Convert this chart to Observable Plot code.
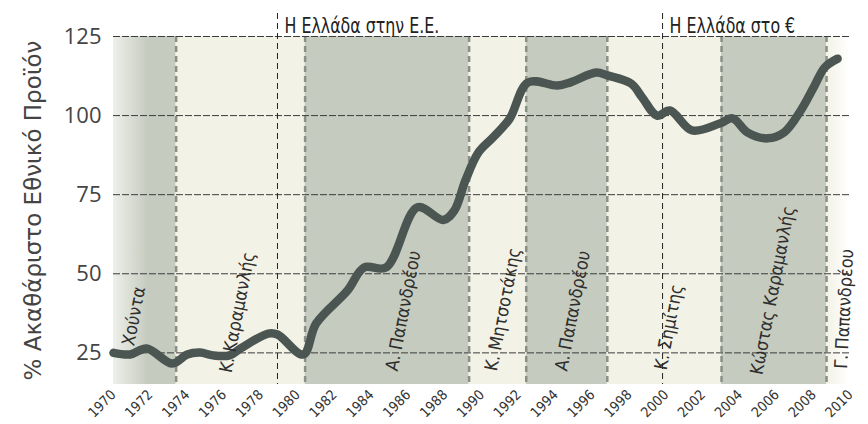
<!DOCTYPE html>
<html>
<head>
<meta charset="utf-8">
<script src="https://cdn.jsdelivr.net/npm/d3@7"></script>
<script src="https://cdn.jsdelivr.net/npm/@observablehq/plot@0.6"></script>
<style>
  html, body { margin: 0; padding: 0; background: #ffffff; }
  #chart { width: 868px; height: 424px; }
</style>
</head>
<body>
<div id="chart"></div>
<script>
// Debt as % of GDP (year, value)
const years = [1970, 1970.9, 1971.8, 1973.2, 1974.0, 1974.7, 1975.4, 1976.3, 1976.9, 1978.4, 1978.9, 1980.3,
  1981.0, 1982.7, 1983.6, 1984.8, 1986.5, 1987.9, 1988.5, 1989.1, 1989.8, 1990.6, 1991.5, 1992.5,
  1994.1, 1994.8, 1996.2, 1996.8, 1998.1, 1998.7, 1999.5, 2000.2, 2001.4, 2002.9, 2003.6, 2004.4,
  2005.5, 2006.4, 2007.3, 2008.0, 2008.6, 2009.3];
const debt = [25.0, 24.5, 26.4, 21.6, 24.5, 25.1, 24.2, 24.2, 26.4, 31.1, 30.8, 24.5,
  34.3, 44.7, 52.0, 52.0, 71.0, 67.0, 70.0, 79.5, 88.3, 93.1, 99.0, 110.5,
  109.5, 110.5, 113.6, 112.7, 110.1, 105.7, 100.0, 101.6, 95.3, 97.5, 99.1, 94.7,
  92.8, 94.7, 101.6, 108.9, 115.2, 118.0];

// Governments (background bands)
const bandStart = [1970, 1973.4, 1980.4, 1989.3, 1992.4, 1996.8, 2003.0, 2008.7];
const bandEnd   = [1973.4, 1980.4, 1989.3, 1992.4, 1996.8, 2003.0, 2008.7, 2010];
const bandKind  = ["dark", "light", "dark", "light", "dark", "light", "dark", "light"];
const leaders   = ["Χούντα", "Κ. Καραμανλής", "Α. Παπανδρέου", "Κ. Μητσοτάκης", "Α. Παπανδρέου",
                   "Κ. Σημίτης", "Κώστας Καραμανλής", "Γ. Παπανδρέου"];
const leaderX   = [1970.8, 1976.1, 1985.1, 1990.5, 1994.3, 1999.7, 2004.9, 2009.5];
const leaderY   = [27.3, 18.8, 19.4, 19.4, 19.4, 19.7, 18.2, 20.0];
const boundaries = [1973.4, 1980.4, 1989.3, 1992.4, 1996.8, 2003.0, 2008.7];

// Events
const eventYears  = [1978.9, 1999.8];
const eventLabels = ["Η Ελλάδα στην Ε.Ε.", "Η Ελλάδα στο €"];

// Axes
const yTicks = [25, 50, 75, 100, 125];
const xTicks = [1970, 1972, 1974, 1976, 1978, 1980, 1982, 1984, 1986, 1988, 1990,
                1992, 1994, 1996, 1998, 2000, 2002, 2004, 2006, 2008, 2010];
const yLabel = "% Ακαθάριστο Εθνικό Προϊόν";

const series = years.map((y, i) => ({year: y, value: debt[i]}));
const bands = bandStart.map((s, i) => ({start: s, end: bandEnd[i], kind: bandKind[i], i}));
const labels = leaders.map((t, i) => ({text: t, x: leaderX[i], y: leaderY[i], i}));
const events = eventYears.map((y, i) => ({year: y, text: eventLabels[i]}));

const DARK = "#c6cbbf", LIGHT = "#f3f2e6";
const narrow = "'Liberation Sans Narrow', 'DejaVu Sans Condensed', 'Roboto Condensed', sans-serif";

const bandFill = d => d.i === 0 ? "url(#fadeLeft)" : d.i === bands.length - 1 ? "url(#fadeRight)" : (d.kind === "dark" ? DARK : LIGHT);

const svg = Plot.plot({
  width: 868,
  height: 424,
  marginLeft: 113,
  marginRight: 18,
  marginTop: 36,
  marginBottom: 40,
  style: {background: "#ffffff", color: "#444", fontFamily: "'Open Sans', sans-serif"},
  x: {domain: [1970, 2010]},
  y: {domain: [15, 125]},
  color: {type: "identity"},
  marks: [
    Plot.rect(bands, {x1: "start", x2: "end", fill: bandFill}),
    Plot.ruleX(boundaries, {stroke: "#8a8f88", strokeWidth: 2.5, strokeDasharray: "6,4"}),
    Plot.ruleY(yTicks, {stroke: "#3c3c3c", strokeWidth: 1, strokeDasharray: "7,2"}),
    Plot.ruleX(events, {x: "year", insetTop: -23, stroke: "#222", strokeWidth: 1, strokeDasharray: "6,4"}),
    Plot.text(events, {x: "year", text: "text", frameAnchor: "top", textAnchor: "start", lineAnchor: "bottom",
      dx: 7, dy: -4, fontSize: 22, fontFamily: narrow, fill: "#222", className: "event-label"}),
    Plot.line(series, {x: "year", y: "value", curve: "catmull-rom", stroke: "#4b5653", strokeWidth: 8.5,
      strokeLinecap: "round", strokeLinejoin: "round"}),
    Plot.text(labels, {x: "x", y: "y", text: "text", rotate: d => d.i === leaders.length - 1 ? -87 : -79,
      textAnchor: "start", lineAnchor: "middle", fontSize: 18, fontFamily: narrow, fill: "#2e2e2e"}),
    Plot.axisY(yTicks, {tickSize: 0, tickPadding: 12, fontSize: 22, label: null}),
    Plot.text([yLabel], {frameAnchor: "left", rotate: -90, dx: -80, textAnchor: "middle", lineAnchor: "middle",
      fontSize: 23, fontFamily: "'DejaVu Sans', sans-serif", fill: "#444"}),
    Plot.axisX(xTicks, {tickSize: 0, tickPadding: 8, tickRotate: -45, tickFormat: d => String(d), fontSize: 14,
      fontFamily: narrow, label: null, fill: "#333"})
  ]
});

const defs = d3.select(svg).insert("defs", ":first-child");
const gl = defs.append("linearGradient").attr("id", "fadeLeft").attr("x1", "0").attr("x2", "1").attr("y1", "0").attr("y2", "0");
gl.append("stop").attr("offset", "0%").attr("stop-color", "#eef0ea");
gl.append("stop").attr("offset", "55%").attr("stop-color", DARK);
gl.append("stop").attr("offset", "100%").attr("stop-color", DARK);
const gr = defs.append("linearGradient").attr("id", "fadeRight").attr("x1", "0").attr("x2", "1").attr("y1", "0").attr("y2", "0");
gr.append("stop").attr("offset", "0%").attr("stop-color", LIGHT);
gr.append("stop").attr("offset", "100%").attr("stop-color", "#ffffff");

document.getElementById("chart").appendChild(svg);

// condense the event captions to the narrow look of the original
d3.select(svg).selectAll(".event-label text").each(function() {
  const w = this.getComputedTextLength();
  d3.select(this).attr("textLength", w * 0.8).attr("lengthAdjust", "spacingAndGlyphs");
});
</script>
</body>
</html>
